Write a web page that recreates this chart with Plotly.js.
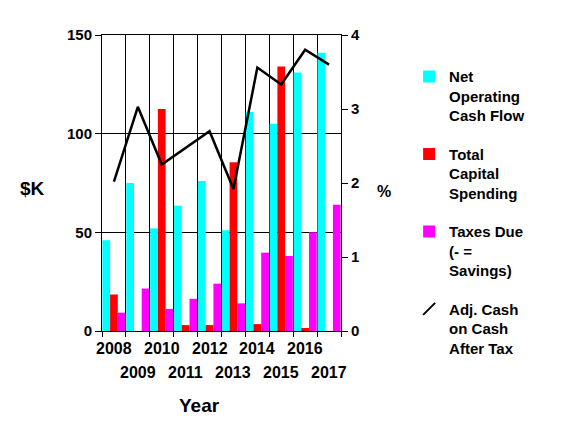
<!DOCTYPE html>
<html>
<head>
<meta charset="utf-8">
<script src="https://cdn.plot.ly/plotly-3.0.1.min.js"></script>
<style>
html,body{margin:0;padding:0;background:#fff;}
#chart{width:574px;height:431px;}
</style>
</head>
<body>
<div id="chart"></div>
<script>
const years = ["2008","2009","2010","2011","2012","2013","2014","2015","2016","2017"];
const netOperatingCashFlow = [46, 75, 52, 63.5, 76, 51, 111, 105, 131, 141];
const totalCapitalSpending = [18.5, 0, 112.5, 3, 3, 85.5, 3.5, 134, 1.5, 0];
const taxesDue = [9.3, 21.5, 11.2, 16.3, 24, 14, 39.7, 38, 50, 64];
const adjCashOnCash = [2.02, 3.03, 2.25, 2.47, 2.70, 1.92, 3.56, 3.33, 3.80, 3.60];
const seriesNames = ["Net<br>Operating<br>Cash Flow", "Total<br>Capital<br>Spending", "Taxes Due<br>(- =<br>Savings)", "Adj. Cash<br>on Cash<br>After Tax"];
const leftTitle = "$K";
const rightTitle = "%";
const xTitle = "Year";

const FONT = "Liberation Sans, Arial, sans-serif";
const f = (size) => ({family: FONT, size: size, color: "#000", weight: 700});

const traces = [
  {type: "bar", x: years, y: netOperatingCashFlow, name: seriesNames[0], marker: {color: "#00FFFF"}, legendgroup: "a"},
  {type: "bar", x: years, y: totalCapitalSpending, name: seriesNames[1], marker: {color: "#FF0000"}, legendgroup: "b"},
  {type: "bar", x: years, y: taxesDue, name: seriesNames[2], marker: {color: "#FF00FF"}, legendgroup: "c"},
  {type: "scatter", mode: "lines", x: years, y: adjCashOnCash, yaxis: "y2", name: seriesNames[3], showlegend: false, line: {color: "#000", width: 2.5}, legendgroup: "d"},
  {type: "scatter", mode: "markers", x: [null], y: [null], yaxis: "y2", name: seriesNames[3], showlegend: true, legendgroup: "d",
   marker: {symbol: "line-ne", size: 12, color: "#000", line: {color: "#000", width: 2}}}
];

const annotations = [];
years.forEach((yr, i) => {
  annotations.push({xref: "x", yref: "paper", x: i, y: 0, yanchor: "top", xanchor: "center",
    yshift: (i % 2 === 0) ? -7 : -31, text: yr, showarrow: false, font: f(16)});
});
annotations.push({xref: "paper", yref: "paper", x: 0.41, y: 0, yanchor: "top", xanchor: "center", yshift: -62, text: xTitle, showarrow: false, font: f(19)});
annotations.push({xref: "paper", yref: "paper", x: -0.29, y: 0.48, xanchor: "center", yanchor: "middle", text: leftTitle, showarrow: false, font: f(19)});
annotations.push({xref: "paper", yref: "paper", x: 1.18, y: 0.47, xanchor: "center", yanchor: "middle", text: rightTitle, showarrow: false, font: f(16)});

const layout = {
  width: 574, height: 431,
  margin: {l: 102, r: 233, t: 35, b: 100},
  paper_bgcolor: "#fff", plot_bgcolor: "#fff",
  barmode: "group", bargap: 0.03, bargroupgap: 0,
  font: f(15),
  showlegend: true,
  legend: {x: 1.285, y: 0.915, xanchor: "left", yanchor: "top", font: f(15), valign: "top",
           traceorder: "grouped", tracegroupgap: 16, bgcolor: "rgba(0,0,0,0)", maxheight: 1},
  xaxis: {type: "category", tickson: "boundaries", ticks: "outside", ticklen: 5, tickcolor: "#000",
          showgrid: true, gridcolor: "#000", gridwidth: 1, showline: true, linecolor: "#000", linewidth: 1,
          mirror: true, showticklabels: false, zeroline: false, range: [-0.5, 9.5], fixedrange: true},
  yaxis: {range: [0, 150], dtick: 50, tick0: 0, ticks: "outside", ticklen: 6, tickcolor: "#000",
          showgrid: true, gridcolor: "#000", gridwidth: 1, showline: true, linecolor: "#000", linewidth: 1,
          zeroline: false, tickfont: f(15), fixedrange: true},
  yaxis2: {range: [0, 4], dtick: 1, tick0: 0, overlaying: "y", side: "right", anchor: "x",
           ticks: "outside", ticklen: 6, tickcolor: "#000", showgrid: false, showline: true, linecolor: "#000",
           linewidth: 1, zeroline: false, tickfont: f(15), fixedrange: true},
  yaxis3: {range: [0, 4], dtick: 1, tick0: 0, overlaying: "y", side: "right", anchor: "x",
           ticks: "inside", ticklen: 7, tickcolor: "#000", showgrid: false, showline: false,
           zeroline: false, showticklabels: false, fixedrange: true},
  annotations: annotations
};

Plotly.newPlot("chart", traces, layout, {displayModeBar: false, staticPlot: true});
</script>
</body>
</html>
